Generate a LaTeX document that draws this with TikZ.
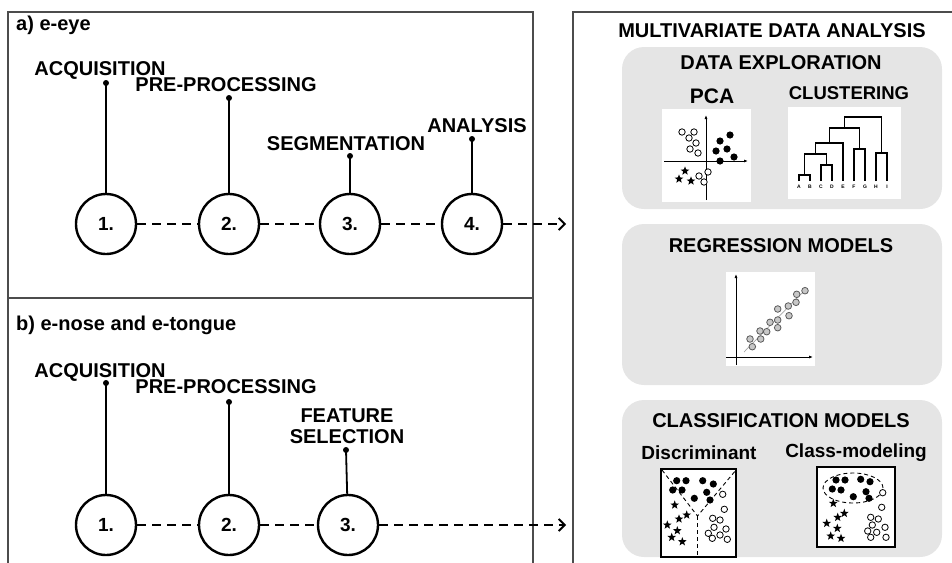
\documentclass[tikz,border=0pt]{standalone}
\usepackage{fontspec}
\setmainfont{Liberation Sans}
\usetikzlibrary{arrows.meta}

\tikzset{
    starmark/.pic = {\fill (90:4.6pt) \foreach \k in {0,...,4} {-- ({126+72*\k}:1.9pt) -- ({162+72*\k}:4.6pt)} -- cycle;}
}

\begin{document}
\begin{tikzpicture}[x=1pt, y=-1pt,
    frame/.style = {draw=black!70, line width=1.3pt},
    stage/.style = {circle, draw, line width=2.4pt, minimum size=60pt, inner sep=0pt, font=\fontsize{19}{19}\selectfont\bfseries},
    stem/.style = {line width=1.8pt},
    flow/.style = {line width=1.8pt, dash pattern=on 9pt off 6pt},
    headtext/.style = {font=\fontsize{20}{22}\selectfont\bfseries, inner sep=0pt},
    panel/.style = {fill=black!10, rounded corners=22pt},
    plotbg/.style = {fill=white},
    ring/.style = {draw=black, fill=white, line width=0.8pt},
    plotaxis/.style = {line width=0.9pt, -{Latex[length=4pt,width=3pt]}},
    leaf/.style = {font=\fontsize{5}{5}\selectfont\bfseries, inner sep=0pt}
]
    \useasboundingbox (0,0) rectangle (952,562);
    \clip (0,0) rectangle (952,562);

    % frames
    \draw[frame] (8,575) -- (8,12) -- (533,12) -- (533,575);
    \draw[frame] (8,298) -- (533,298);
    \draw[frame] (573,575) -- (573,12) -- (960,12);

    % a) e-eye
    \node[headtext, anchor=west] (capA) at (16,25) {a) e-eye};
    \node[stage] (a1) at (106,224) {1.};
    \node[stage] (a2) at (229,224) {2.};
    \node[stage] (a3) at (350,224) {3.};
    \node[stage] (a4) at (472,224) {4.};
    \coordinate (ta1) at (106,83);
    \coordinate (ta2) at (229,98);
    \coordinate (ta3) at (350,156);
    \coordinate (ta4) at (472,139);
    \coordinate (aout) at (566,224);
    \foreach \s in {1,...,4} {
        \draw[stem] (a\s) -- (ta\s);
        \fill (ta\s) circle (3pt);
    }
    \draw[flow] (a1) -- (a2);
    \draw[flow] (a2) -- (a3);
    \draw[flow] (a3) -- (a4);
    \draw[flow, -{Straight Barb[length=6pt,width=12pt]}] (a4) -- (aout);
    \node[headtext, anchor=base] (acqA) at (100,75) {ACQUISITION};
    \node[headtext, anchor=base] (preA) at (226,91) {PRE-PROCESSING};
    \node[headtext, anchor=base] (segA) at (346,150) {SEGMENTATION};
    \node[headtext, anchor=base] (anaA) at (477,132) {ANALYSIS};

    % b) e-nose and e-tongue
    \node[headtext, anchor=west] (capB) at (16,325) {b) e-nose and e-tongue};
    \node[stage] (b1) at (106,525) {1.};
    \node[stage] (b2) at (229,525) {2.};
    \node[stage] (b3) at (348,525) {3.};
    \coordinate (tb1) at (106,383);
    \coordinate (tb2) at (229,402);
    \coordinate (tb3) at (346,450);
    \coordinate (bout) at (566,525);
    \foreach \s in {1,...,3} {
        \draw[stem] (b\s) -- (tb\s);
        \fill (tb\s) circle (3pt);
    }
    \draw[flow] (b1) -- (b2);
    \draw[flow] (b2) -- (b3);
    \draw[flow, -{Straight Barb[length=6pt,width=12pt]}] (b3) -- (bout);
    \node[headtext, anchor=base] (acqB) at (100,377) {ACQUISITION};
    \node[headtext, anchor=base] (preB) at (226,393) {PRE-PROCESSING};
    \node[headtext, anchor=base] (feaB) at (347,422) {FEATURE};
    \node[headtext, anchor=base] (selB) at (347,443) {SELECTION};

    % multivariate data analysis
    \node[headtext] (mva) at (772,31) {MULTIVARIATE DATA ANALYSIS};
    \fill[panel] (622,47) rectangle (942,209);
    \fill[panel] (622,224) rectangle (942,385);
    \fill[panel] (622,400) rectangle (942,557);
    \node[headtext] (explo) at (781,63) {DATA EXPLORATION};
    \node[headtext, font=\fontsize{21}{22}\selectfont\bfseries] (pca) at (712,96) {PCA};
    \node[headtext, font=\fontsize{18.5}{20}\selectfont\bfseries] (clus) at (849,93) {CLUSTERING};
    \node[headtext] (regr) at (781,246) {REGRESSION MODELS};
    \node[headtext] (class) at (781,421) {CLASSIFICATION MODELS};
    \node[headtext, font=\fontsize{19}{20}\selectfont\bfseries] (discr) at (699,453) {Discriminant};
    \node[headtext, font=\fontsize{19}{20}\selectfont\bfseries] (cmod) at (856,453) {Class-modeling};

    % PCA scores
    \fill[plotbg] (662,109) rectangle (751,202);
    \draw[plotaxis] (706,200) -- (706,115);
    \draw[plotaxis] (664,161) -- (748,161);
    \foreach \x/\y in {682/132, 694/132, 689/138, 696/143, 690/149, 698/153, 708/172, 699/176, 704/182}
        \draw[ring] (\x,\y) circle (3.2pt);
    \foreach \x/\y in {730/135, 720/141, 727/149, 716/151, 734/157, 720/161}
        \fill (\x,\y) circle (3.6pt);
    \foreach \x/\y in {685/171, 679/179, 691/181}
        \pic at (\x,\y) {starmark};

    % dendrogram
    \fill[plotbg] (788,107) rectangle (901,199);
    \foreach \n [count=\i] in {A,B,C,D,E,F,G,H,I}
        \node[leaf] (leaf\n) at ({788+11*\i},187) {\n};
    \begin{scope}[line width=1.4pt]
        \draw (799,181) -- (799,175) -- (810,175) -- (810,181);
        \draw (821,181) -- (821,165) -- (832,165) -- (832,181);
        \draw (804.5,175) -- (804.5,154) -- (826.5,154) -- (826.5,165);
        \draw (815.5,154) -- (815.5,143) -- (843,143) -- (843,181);
        \draw (854,181) -- (854,149) -- (865,149) -- (865,181);
        \draw (876,181) -- (876,153) -- (887,153) -- (887,181);
        \draw (829.2,143) -- (829.2,128) -- (859.5,128) -- (859.5,149);
        \draw (844.4,128) -- (844.4,117) -- (881.5,117) -- (881.5,153);
    \end{scope}

    % regression
    \fill[plotbg] (726,272) rectangle (815,366);
    \draw[plotaxis] (736,365) -- (736,274);
    \draw[plotaxis] (726,357) -- (813,357);
    \draw[black!35, line width=0.7pt] (744,352) -- (805,290);
    \foreach \x/\y in {750/339, 752.3/346.7, 760.7/339, 760/331, 766.7/331.7, 770/322.3, 777.7/327.7, 777.7/320, 777.7/309, 788.3/306, 789/315.7, 796/302.3, 796.7/294.3, 805/290.7}
        \draw[draw=black!65, fill=black!22, line width=0.8pt] (\x,\y) circle (3.3pt);

    % discriminant classification
    \draw[plotbg, draw=black, line width=1.2pt] (661,469) rectangle (736,557);
    \draw[dash pattern=on 4pt off 3pt, line width=0.9pt] (662,470) -- (697.5,516) -- (736,470);
    \draw[dash pattern=on 4pt off 3pt, line width=0.9pt] (697.5,516) -- (697.5,557);
    \foreach \x/\y in {676.7/480.7, 686/480.7, 702.7/480.7, 713.3/484, 672.7/490, 682/490, 706.7/492.3, 694.3/498.3, 710/500}
        \fill (\x,\y) circle (3.6pt);
    \foreach \x/\y in {674.7/505, 686.7/515, 679/519, 667.3/525, 677.3/530.7, 671.7/537.3, 682.3/541.7}
        \pic at (\x,\y) {starmark};
    \foreach \x/\y in {722.7/494.3, 724.3/509.3, 712.7/518.3, 720/520, 714/527.3, 726/529, 708.3/533.3, 720/535, 712.3/538.3, 727.3/539.3}
        \draw[ring] (\x,\y) circle (3.2pt);

    % class-modeling
    \draw[plotbg, draw=black, line width=1.2pt] (817,467) rectangle (895,547);
    \draw[dash pattern=on 4pt off 3pt, line width=0.9pt] (853,488) ellipse [x radius=30pt, y radius=15pt];
    \foreach \x/\y in {836/480, 845/480, 860.7/479.3, 870/481.7, 832.3/489, 841/490, 866/491.7, 853.3/496.7, 869/498.3}
        \fill (\x,\y) circle (3.6pt);
    \foreach \x/\y in {833.3/503.3, 837.7/517.3, 844.3/513.3, 826.7/523.3, 837.3/528.3, 830.7/536, 841/538.3}
        \pic at (\x,\y) {starmark};
    \foreach \x/\y in {882.7/492.7, 881.7/507.3, 870.7/517.3, 878.3/519, 872.3/525, 885/527.3, 867.7/531, 876.7/532.3, 870.7/537.3, 886/537.3}
        \draw[ring] (\x,\y) circle (3.2pt);
\end{tikzpicture}
\end{document}
